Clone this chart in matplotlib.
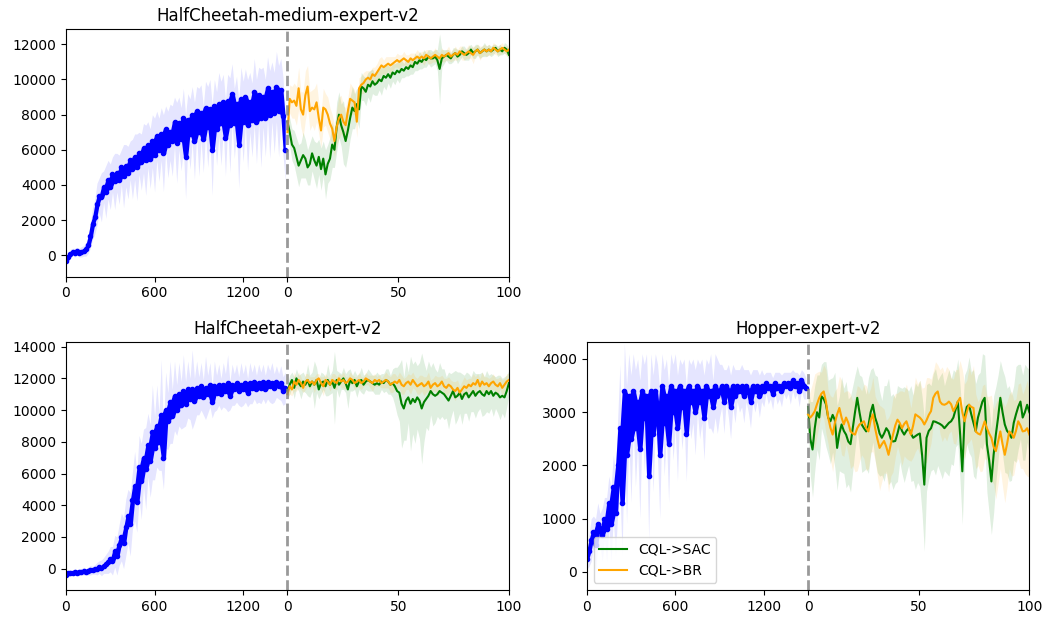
import numpy as np
import matplotlib.pyplot as plt

# offline CQL curve sampled every 15 epochs (0..1485), online fine-tuning 100 evals

# HalfCheetah-medium-expert-v2
hcme_off = [-300, -100, 100, 200, 150, 250, 150, 200, 250, 350,
            600, 1100, 1800, 2200, 2900, 3400, 3300, 3900, 3600, 4300,
            3900, 4600, 4200, 4700, 4300, 5000, 4500, 5100, 4700, 5400,
            4900, 5600, 5000, 5800, 5300, 6100, 5400, 6300, 5500, 6500,
            5700, 6800, 6000, 6900, 5800, 7200, 6300, 7000, 6500, 7600,
            6400, 7500, 6600, 7800, 5600, 7700, 6900, 8000, 6500, 8200,
            7000, 8100, 6600, 8400, 7300, 8300, 6000, 8500, 7200, 8600,
            7500, 8700, 6700, 8800, 7400, 9200, 7500, 8600, 6300, 8900,
            7600, 9000, 7400, 8700, 7700, 9300, 7600, 9100, 7800, 9000,
            7800, 9500, 8000, 9300, 8100, 9600, 8200, 9400, 7900, 6000]
hcme_off_std = [200, 200, 250, 200, 250, 200, 250, 300, 300, 400,
                500, 700, 900, 1000, 1200, 1000, 1400, 900, 1500, 1100,
                1300, 1000, 1600, 1100, 1400, 1000, 1800, 1200, 1500, 1100,
                1700, 1300, 1900, 1200, 1600, 1400, 2000, 1300, 1700, 1500,
                2100, 1400, 1800, 1500, 2200, 1300, 1900, 1600, 2000, 1400,
                2300, 1500, 1800, 1700, 2400, 1500, 2000, 1600, 2200, 1400,
                2500, 1600, 1900, 1500, 2300, 1700, 2600, 1500, 2100, 1800,
                2400, 1600, 2200, 1500, 2700, 1700, 2000, 1600, 2500, 1800,
                2300, 1600, 2600, 1700, 2100, 1900, 2400, 1600, 2800, 1700,
                2200, 1800, 2500, 1700, 2300, 2000, 2600, 1800, 2200, 1800]
hcme_sac = [7600, 7000, 6300, 6100, 5600, 5100, 5400, 5700, 5500, 5000,
            5200, 5800, 5400, 5100, 5600, 4900, 5500, 4600, 5200, 5500,
            6300, 6000, 7300, 8000, 7400, 7000, 6500, 7100, 7800, 8400,
            8200, 8600, 8300, 9600, 9500, 9300, 9700, 9600, 9900, 9700,
            9800, 10000, 9900, 10200, 10100, 10300, 10100, 10400, 10300, 10500,
            10400, 10600, 10500, 10700, 10600, 10800, 10700, 11000, 10900, 11100,
            11000, 11200, 11100, 11300, 11200, 11200, 11300, 11100, 10600, 11200,
            11300, 11400, 11300, 11200, 11400, 11500, 11300, 11400, 11600, 11500,
            11400, 11500, 11700, 11500, 11600, 11700, 11500, 11600, 11700, 11600,
            11700, 11600, 11700, 11800, 11600, 11700, 11600, 11800, 11700, 11400]
hcme_sac_std = [600, 800, 900, 1000, 1100, 1200, 1000, 1300, 1100, 1000,
                1200, 1000, 1100, 1300, 1000, 1200, 1000, 1400, 1100, 1200,
                1300, 1000, 1400, 1300, 1200, 1800, 1500, 1400, 1200, 1200,
                1000, 900, 1100, 800, 700, 800, 700, 900, 700, 600,
                700, 600, 800, 600, 700, 500, 600, 500, 600, 500,
                600, 500, 400, 500, 400, 500, 400, 500, 400, 500,
                400, 500, 400, 400, 500, 400, 400, 600, 2000, 500,
                400, 300, 400, 300, 400, 300, 400, 300, 300, 400,
                300, 400, 300, 300, 400, 300, 300, 300, 400, 300,
                300, 300, 300, 200, 300, 300, 200, 300, 300, 300]
hcme_br = [7000, 8900, 8700, 8800, 8500, 9500, 8300, 8000, 9100, 9600,
           8200, 8400, 8300, 8700, 7800, 7100, 8400, 8300, 8000, 7500,
           7200, 6500, 7300, 7800, 8000, 7600, 7400, 8200, 8900, 8800,
           8700, 7600, 9500, 9700, 9800, 10000, 10100, 10000, 10300, 10200,
           10400, 10600, 10800, 10700, 10800, 10900, 10800, 10900, 11000, 11100,
           11000, 11100, 11200, 11100, 11000, 11200, 11100, 11200, 11300, 11200,
           11300, 11200, 11400, 11300, 11200, 11300, 11400, 11300, 11200, 11400,
           11300, 11400, 11500, 11300, 11400, 11500, 11400, 11600, 11500, 11400,
           11500, 11600, 11500, 11400, 11600, 11700, 11500, 11600, 11700, 11600,
           11700, 11600, 11800, 11700, 11600, 11700, 11800, 11700, 11600, 11700]
hcme_br_std = [500, 800, 900, 1000, 1100, 1200, 1000, 1300, 1400, 1200,
               1100, 1000, 1200, 1100, 900, 1000, 1100, 900, 1000, 900,
               800, 900, 1000, 1200, 1100, 900, 1000, 800, 900, 800,
               700, 900, 600, 500, 600, 500, 400, 500, 400, 500,
               500, 600, 500, 400, 500, 400, 500, 400, 300, 400,
               400, 300, 400, 300, 400, 300, 400, 300, 400, 300,
               300, 400, 300, 400, 300, 300, 400, 300, 300, 400,
               300, 300, 400, 300, 300, 400, 300, 300, 400, 300,
               300, 400, 300, 500, 300, 300, 400, 300, 300, 300,
               300, 200, 300, 300, 200, 300, 300, 200, 300, 300]

# HalfCheetah-expert-v2
hce_off = [-400, -300, -250, -250, -200, -250, -200, -200, -150, -200,
           -150, -100, -100, -50, 0, 100, 50, 200, 300, 400,
           600, 500, 1100, 800, 1500, 2000, 1600, 2600, 3300, 2800,
           4300, 5200, 4200, 6400, 5500, 7000, 6300, 7800, 6800, 8600,
           7600, 9000, 8000, 9700, 7000, 10000, 9300, 10500, 9600, 10900,
           10000, 11000, 10300, 11200, 10400, 11300, 10700, 11300, 10600, 11400,
           10900, 11500, 10800, 11400, 11000, 11600, 10500, 11500, 11100, 11600,
           11000, 11600, 11200, 11700, 10900, 11600, 11300, 11700, 11200, 11600,
           11300, 11700, 11100, 11700, 11400, 11800, 11300, 11700, 11400, 11800,
           11300, 11800, 11500, 11700, 11400, 11800, 11500, 11700, 11200, 11400]
hce_off_std = [150, 150, 200, 150, 200, 150, 200, 200, 250, 200,
               250, 300, 250, 300, 400, 400, 500, 500, 600, 700,
               800, 900, 1000, 1200, 1300, 1500, 1600, 1800, 1700, 2000,
               1800, 2200, 1900, 2000, 2400, 1800, 2600, 2000, 2300, 3000,
               2000, 2600, 1800, 3500, 2000, 2400, 1800, 2600, 1700, 2200,
               1600, 2000, 1500, 2300, 1400, 1800, 1300, 2500, 1400, 1700,
               1200, 1500, 1100, 2000, 1200, 1400, 1000, 1600, 1100, 1300,
               1000, 1400, 1100, 1800, 900, 1300, 1000, 1200, 900, 1400,
               1000, 1200, 900, 1300, 1000, 1100, 900, 1200, 1000, 1100,
               900, 1100, 1000, 1300, 900, 1000, 800, 1100, 900, 1000]
hce_sac = [11200, 11600, 11900, 11400, 12000, 11700, 11500, 11800, 11600, 11900,
           11500, 11800, 11600, 11900, 11300, 11700, 11800, 11500, 11900, 11600,
           11800, 11400, 11900, 11600, 11800, 12000, 11700, 11300, 11900, 11700,
           11900, 11500, 11800, 11900, 11600, 11800, 11900, 11800, 11700, 11600,
           11700, 11600, 11800, 11700, 11900, 11800, 11600, 11700, 11500, 11200,
           11100, 10400, 10100, 10600, 10800, 10400, 10700, 10500, 10800, 10600,
           10100, 10500, 10700, 10900, 11200, 11000, 10900, 11000, 11200, 11100,
           11000, 10800, 10600, 10900, 11200, 10800, 10900, 11100, 10700, 11000,
           11100, 10800, 11000, 11200, 10900, 11100, 11200, 11000, 10900, 11200,
           11000, 11200, 10900, 11100, 11000, 10800, 10900, 10800, 11200, 11700]
hce_sac_std = [400, 600, 500, 700, 600, 500, 800, 600, 500, 1000,
               700, 600, 1500, 800, 600, 700, 500, 600, 1000, 600,
               700, 2300, 600, 800, 500, 700, 600, 1200, 700, 500,
               600, 700, 500, 800, 600, 500, 700, 600, 500, 600,
               700, 600, 500, 600, 700, 800, 600, 900, 1200, 1500,
               1800, 2800, 2000, 2500, 1600, 3000, 2200, 2600, 2000, 2400,
               3500, 2500, 1800, 2200, 1500, 2000, 1700, 1400, 1800, 1500,
               1600, 1300, 1800, 1400, 1200, 1700, 1500, 1300, 1600, 1200,
               1300, 1500, 1100, 1300, 1400, 1200, 1100, 1400, 1200, 1300,
               1200, 1100, 1300, 1000, 1200, 1400, 1100, 1300, 1000, 800]
hce_br = [11000, 11500, 11300, 11800, 11600, 11900, 11700, 11400, 11800, 11900,
          11700, 11800, 11600, 11900, 12000, 11700, 11500, 11900, 11800, 11600,
          11900, 11800, 11700, 12000, 11800, 11900, 11700, 11800, 12000, 11900,
          11700, 11800, 11900, 11700, 11800, 12000, 11900, 11800, 11700, 11900,
          11800, 11900, 11700, 11800, 11900, 11800, 11600, 11700, 11800, 11700,
          11900, 11600, 11500, 11700, 11800, 11600, 11900, 11700, 11500, 11600,
          11700, 11500, 11600, 11800, 11400, 11600, 11700, 11500, 11600, 11800,
          11500, 11400, 11600, 11500, 11300, 11200, 11400, 11100, 11300, 11500,
          11400, 11600, 11500, 11700, 11600, 11900, 11500, 11800, 11600, 11700,
          11500, 11700, 11800, 11600, 11500, 11700, 11400, 11600, 11800, 11900]
hce_br_std = [300, 500, 400, 600, 400, 500, 400, 300, 500, 400,
              400, 300, 500, 400, 300, 400, 600, 400, 300, 400,
              400, 500, 400, 300, 400, 500, 400, 300, 400, 300,
              400, 300, 500, 400, 300, 400, 300, 400, 500, 400,
              300, 400, 300, 400, 500, 400, 500, 600, 500, 400,
              500, 600, 500, 400, 500, 600, 500, 400, 500, 600,
              500, 600, 500, 600, 500, 400, 500, 600, 500, 400,
              500, 600, 500, 400, 500, 600, 500, 400, 500, 600,
              500, 400, 500, 600, 500, 400, 500, 600, 500, 400,
              500, 400, 500, 400, 500, 400, 500, 400, 500, 400]

# Hopper-expert-v2
hop_off = [250, 400, 600, 750, 500, 900, 800, 700, 1000, 800,
           1300, 900, 1600, 1100, 2000, 2700, 1300, 3400, 2200, 3300,
           2500, 3400, 2700, 3200, 2300, 3400, 2900, 3300, 1800, 3400,
           2600, 3400, 3000, 2200, 3500, 2800, 3300, 2400, 3500, 3000,
           3400, 2700, 3500, 3100, 3400, 2600, 3500, 3200, 3400, 3000,
           3500, 3200, 3400, 2900, 3500, 3300, 3400, 3100, 3500, 3300,
           3400, 3500, 3200, 3500, 3400, 3100, 3500, 3300, 3500, 3400,
           3500, 3300, 3500, 3400, 3200, 3500, 3400, 3500, 3300, 3500,
           3400, 3550, 3450, 3500, 3350, 3550, 3450, 3500, 3400, 3550,
           3500, 3550, 3450, 3600, 3500, 3550, 3400, 3600, 3500, 3450]
hop_off_std = [200, 300, 400, 300, 500, 400, 300, 500, 400, 600,
               500, 700, 600, 800, 900, 1200, 1000, 900, 1300, 800,
               1200, 700, 1100, 800, 1300, 700, 1000, 800, 1200, 700,
               1100, 700, 900, 1200, 600, 1000, 700, 1100, 600, 900,
               700, 1000, 500, 800, 600, 900, 500, 700, 600, 800,
               500, 700, 600, 800, 500, 600, 700, 500, 600, 700,
               500, 400, 600, 300, 500, 600, 400, 500, 300, 400,
               400, 500, 300, 400, 500, 300, 400, 300, 400, 300,
               300, 200, 300, 250, 300, 200, 300, 250, 300, 200,
               250, 200, 300, 200, 250, 200, 300, 200, 250, 200]
hop_sac = [3100, 2500, 2300, 2700, 3000, 2900, 3300, 3250, 3150, 2900,
           2830, 2950, 2850, 2330, 2600, 2770, 2650, 2580, 2450, 2400,
           2700, 3000, 3270, 3000, 2770, 2700, 2640, 2750, 3000, 3140,
           2900, 2770, 2600, 2520, 2600, 2700, 2640, 2500, 2450, 2460,
           2600, 2770, 2650, 2580, 2650, 2700, 2600, 2520, 2550, 2580,
           2600, 2200, 1640, 2520, 2650, 2700, 2830, 2820, 2800, 2780,
           2750, 2700, 2750, 2800, 2830, 2900, 3050, 3200, 2600, 1890,
           2900, 3100, 3140, 2960, 2800, 2640, 2900, 3050, 3200, 3270,
           2400, 2100, 1700, 2200, 2580, 2900, 3270, 3000, 2770, 2650,
           2600, 2520, 2800, 2960, 3100, 3200, 2900, 3000, 3140, 3000]
hop_sac_std = [400, 700, 900, 800, 700, 800, 600, 700, 800, 700,
               800, 700, 900, 800, 700, 900, 800, 1000, 800, 900,
               800, 700, 600, 700, 900, 800, 700, 900, 800, 700,
               800, 900, 800, 700, 900, 800, 1000, 800, 900, 800,
               900, 700, 800, 900, 800, 700, 900, 800, 1000, 900,
               1000, 1100, 1250, 1000, 900, 800, 900, 1000, 800, 900,
               1000, 800, 900, 1000, 800, 900, 700, 800, 900, 1000,
               800, 700, 900, 800, 1000, 900, 800, 700, 900, 800,
               900, 1000, 1000, 1100, 900, 800, 700, 800, 900, 800,
               900, 800, 700, 900, 800, 700, 800, 900, 700, 800]
hop_br = [2960, 2900, 2950, 3020, 3150, 3270, 3350, 3390, 3200, 2900,
          2710, 2580, 2800, 2960, 3080, 2900, 2770, 2900, 2800, 2640,
          2600, 2580, 2700, 2770, 2800, 2830, 2700, 2640, 2850, 2960,
          2700, 2500, 2330, 2400, 2460, 2350, 2200, 2400, 2580, 2750,
          2860, 2800, 2700, 2780, 2830, 2700, 2580, 2750, 2960, 2930,
          2900, 2850, 2770, 2850, 2950, 3020, 3270, 3350, 3390, 3200,
          3150, 3140, 3160, 3200, 3150, 3020, 3100, 3200, 3270, 3000,
          2830, 3000, 3140, 3100, 3080, 2640, 2600, 2580, 2700, 2830,
          2700, 2600, 2520, 2350, 2270, 2450, 2640, 2400, 2200, 2400,
          2640, 2600, 2520, 2650, 2830, 2750, 2640, 2650, 2700, 2580]
hop_br_std = [300, 500, 600, 700, 600, 500, 400, 500, 600, 500,
              600, 700, 600, 500, 600, 700, 600, 500, 600, 700,
              600, 700, 800, 700, 600, 700, 800, 700, 600, 700,
              600, 700, 800, 700, 600, 500, 700, 600, 700, 600,
              500, 600, 700, 600, 700, 600, 500, 600, 700, 600,
              700, 600, 700, 800, 700, 600, 500, 600, 500, 600,
              700, 600, 700, 600, 500, 600, 700, 600, 700, 800,
              700, 600, 700, 600, 800, 700, 600, 700, 800, 700,
              600, 700, 800, 700, 900, 800, 700, 800, 900, 800,
              700, 800, 700, 600, 700, 800, 700, 800, 900, 800]

titles = ['HalfCheetah-medium-expert-v2', 'HalfCheetah-expert-v2', 'Hopper-expert-v2']
xtick_labels = ['0', '600', '1200', '0', '50', '100']


def draw(ax, off, off_std, sac, sac_std, br, br_std, title, ylim, legend=False):
    off, off_std = np.array(off), np.array(off_std)
    sac, sac_std = np.array(sac), np.array(sac_std)
    br, br_std = np.array(br), np.array(br_std)
    # offline part (0..1500 epochs) squeezed into [0, 100], online part in [100, 200]
    x_off = np.arange(len(off)) * 15 / 15.0
    x_on = 100 + np.linspace(0, 100, len(sac))

    ax.fill_between(x_off, off - off_std, off + off_std, color='blue', alpha=0.1, lw=0)
    # dense cloud of evaluation dots: fill between neighbouring samples
    lo = np.minimum(off[:-1], off[1:])
    hi = np.maximum(off[:-1], off[1:])
    xm = x_off[:-1] + 0.5
    ax.fill_between(xm, lo, hi, color='blue', lw=1.5, edgecolor='blue')
    ax.plot(x_off, off, color='blue', marker='o', ms=3, lw=1.5, ls='none')

    ax.fill_between(x_on, sac - sac_std, sac + sac_std, color='green', alpha=0.12, lw=0)
    ax.fill_between(x_on, br - br_std, br + br_std, color='orange', alpha=0.12, lw=0)
    ax.plot(x_on, sac, color='green', lw=1.5, label='CQL->SAC')
    ax.plot(x_on, br, color='orange', lw=1.5, label='CQL->BR')

    ax.axvline(100, color='gray', ls='--', lw=2, alpha=0.8)
    ax.set_xlim(0, 200)
    ax.set_ylim(*ylim)
    ax.set_xticks([0, 40, 80, 100, 150, 200])
    ax.set_xticklabels(xtick_labels)
    ax.set_title(title)
    if legend:
        ax.legend(loc='lower left')


fig = plt.figure(figsize=(10.44, 6.17), dpi=100)
ax1 = fig.add_axes([0.0632, 0.5515, 0.4243, 0.401])
ax2 = fig.add_axes([0.0632, 0.0438, 0.4243, 0.4015])
ax3 = fig.add_axes([0.562, 0.0438, 0.424, 0.4015])

draw(ax1, hcme_off, hcme_off_std, hcme_sac, hcme_sac_std, hcme_br, hcme_br_std,
     titles[0], (-1217, 12853))
draw(ax2, hce_off, hce_off_std, hce_sac, hce_sac_std, hce_br, hce_br_std,
     titles[1], (-1343, 14277))
ax2.set_yticks(range(0, 14001, 2000))
draw(ax3, hop_off, hop_off_std, hop_sac, hop_sac_std, hop_br, hop_br_std,
     titles[2], (-338, 4314), legend=True)

plt.savefig('out.png', dpi=100)
